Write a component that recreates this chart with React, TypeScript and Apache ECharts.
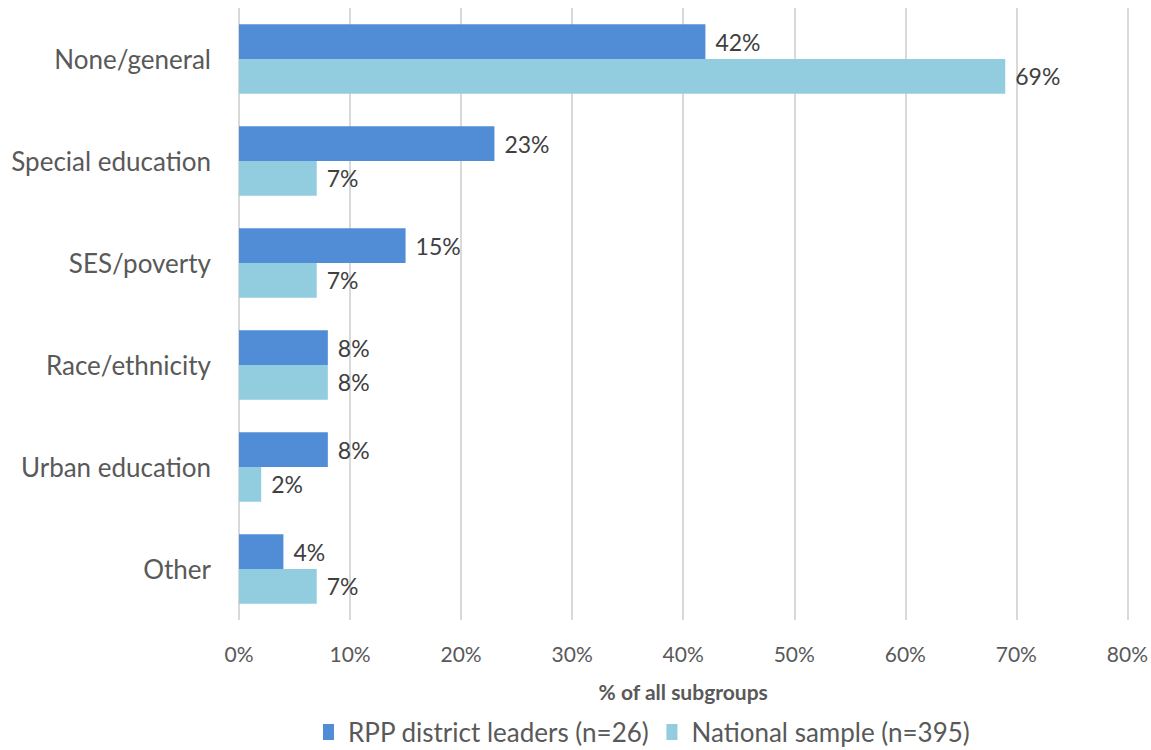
import React, { useEffect, useRef } from "react";
import * as echarts from "echarts";

const categories = ["None/general", "Special education", "SES/poverty", "Race/ethnicity", "Urban education", "Other"];
const rppValues = [42, 23, 15, 8, 8, 4];
const nationalValues = [69, 7, 7, 8, 2, 7];
const seriesNames = ["RPP district leaders (n=26)", "National sample (n=395)"];
const xTicks = [0, 10, 20, 30, 40, 50, 60, 70, 80];

const FONT = "Lato, 'Open Sans', sans-serif";

export default function App() {
  const ref = useRef<HTMLDivElement>(null);
  useEffect(() => {
    document.body.style.margin = "0";
    const chart = echarts.init(ref.current!, null, { renderer: "svg" });
    chart.setOption({
      animation: false,
      textStyle: { fontFamily: FONT },
      grid: { left: 239, right: 23, top: 8, bottom: 130, containLabel: false },
      legend: {
        top: 714,
        left: 318,
        itemWidth: 11,
        itemHeight: 16,
        itemGap: 17,
        icon: "rect",
        textStyle: { fontSize: 26, color: "#595959", fontFamily: FONT, padding: [0, 0, 0, 9] },
        data: seriesNames,
      },
      xAxis: {
        type: "value",
        min: xTicks[0],
        max: xTicks[xTicks.length - 1],
        interval: 10,
        name: "% of all subgroups",
        nameLocation: "middle",
        nameGap: 61,
        nameTextStyle: { fontSize: 21, fontWeight: "bold", color: "#595959", fontFamily: FONT },
        axisLine: { show: false },
        axisTick: { show: false },
        axisLabel: { formatter: "{value}%", fontSize: 21, color: "#595959", margin: 23, fontFamily: FONT },
        splitLine: { show: true, lineStyle: { color: "#d9d9d9", width: 2 } },
      },
      yAxis: {
        type: "category",
        inverse: true,
        data: categories,
        axisLine: { show: false },
        axisTick: { show: false },
        axisLabel: { fontSize: 26, color: "#595959", margin: 28, fontFamily: FONT },
      },
      series: [
        {
          name: seriesNames[0],
          type: "bar",
          data: rppValues,
          barCategoryGap: "32%",
          barGap: "0%",
          itemStyle: { color: "#518DD6" },
          label: { show: true, position: "right", formatter: "{c}%", fontSize: 23, color: "#404040", distance: 10, fontFamily: FONT },
        },
        {
          name: seriesNames[1],
          type: "bar",
          data: nationalValues,
          barCategoryGap: "32%",
          barGap: "0%",
          itemStyle: { color: "#92CDDF" },
          label: { show: true, position: "right", formatter: "{c}%", fontSize: 23, color: "#404040", distance: 10, fontFamily: FONT },
        },
      ],
    });
    return () => chart.dispose();
  }, []);
  return <div ref={ref} style={{ width: 1151, height: 750 }} />;
}
